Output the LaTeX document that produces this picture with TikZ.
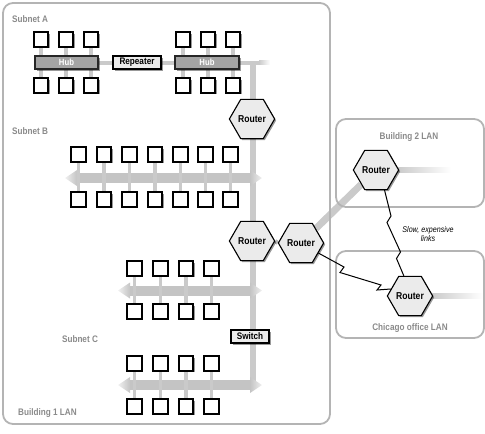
\documentclass[tikz,border=0pt]{standalone}
\usepackage{fontspec}
\setmainfont{Liberation Sans}[FakeStretch=0.86]
\usetikzlibrary{shapes.geometric,shadows,calc}
\pgfdeclarelayer{bg}
\pgfsetlayers{bg,main}
\definecolor{framec}{HTML}{B4B4B4}
\definecolor{labc}{HTML}{8A8A8A}
\definecolor{linec}{HTML}{CACACA}
\definecolor{barc}{HTML}{C4C4C4}
\definecolor{hubc}{HTML}{A4A4A4}
\definecolor{boxc}{HTML}{EBEBEB}
\tikzset{
 shad/.style={drop shadow={shadow xshift=1.5pt,shadow yshift=-1.5pt,fill=black,opacity=0.4}},
 pc/.style={draw=black,line width=1.8pt,fill=white,minimum size=14.5pt,inner sep=0pt,shad},
 hub/.style={draw=black!85,line width=1.3pt,fill=hubc,minimum height=13pt,inner sep=0pt,text=white,font=\fontsize{9}{10}\selectfont\bfseries,shad},
 devbox/.style={draw=black,line width=1.3pt,fill=boxc,minimum height=13pt,inner sep=0pt,font=\fontsize{9.5}{10}\selectfont\bfseries,shad},
 router/.style={regular polygon,regular polygon sides=6,minimum size=37pt,inner sep=0pt,draw=black,line width=1.1pt,fill=boxc,font=\fontsize{10}{10}\selectfont\bfseries,shad},
 lab/.style={text=labc,font=\fontsize{9.5}{10}\selectfont\bfseries,inner sep=0pt},
 frame/.style={draw=framec,line width=1.8pt,rounded corners=10pt},
 stub/.style={draw=linec,line width=3.5pt},
 trunk/.style={draw=linec,line width=5.5pt},
 bolt/.style={draw=black,line width=1pt,line join=miter},
}
\newcommand\netbar[4]{%
 \coordinate (#1) at (#2,#4);
 \fill[barc] (#2+11,#4-5) rectangle (#3-11,#4+5);
 \shade[left color=barc!25,right color=barc] (#2,#4) -- (#2+12,#4-8) -- (#2+12,#4+8) -- cycle;
 \shade[left color=barc,right color=barc!25] (#3,#4) -- (#3-12,#4-8) -- (#3-12,#4+8) -- cycle;
}
\begin{document}
\begin{tikzpicture}[x=1pt,y=-1pt]
\useasboundingbox (0,0) rectangle (485,434);
% frames
\draw[frame] (3,3) rectangle (330,424);
\draw[frame] (336,119) rectangle (484,207);
\draw[frame] (336,251) rectangle (484,338);
% labels
\node[lab,anchor=west] (labA) at (12,19) {Subnet A};
\node[lab,anchor=west] (labB) at (12,131) {Subnet B};
\node[lab] (labC) at (80,339) {Subnet C};
\node[lab,anchor=west] (lab1) at (18,413) {Building 1 LAN};
\node[lab] (lab2) at (409,137) {Building 2 LAN};
\node[lab] (lab3) at (410,328) {Chicago office LAN};
\node[font=\fontsize{8.3}{9}\selectfont\itshape,align=center,inner sep=0pt] (slow) at (428,234.5) {Slow, expensive\\links};
% Subnet A
\node[hub,minimum width=63pt] (hub1) at (66.5,62.5) {Hub};
\node[devbox,minimum width=48pt] (rep) at (137,62.5) {Repeater};
\node[hub,minimum width=64pt] (hub2) at (207,62.5) {Hub};
\foreach \x [count=\i] in {41,66,91}{
  \node[pc] (a\i t) at (\x,39.5) {};
  \node[pc] (a\i b) at (\x,85.5) {};
  \begin{pgfonlayer}{bg}
  \draw[stub] (a\i t) -- (a\i b);
  \end{pgfonlayer}
}
\foreach \x [count=\i] in {183,208,233}{
  \node[pc] (c\i t) at (\x,39.5) {};
  \node[pc] (c\i b) at (\x,85.5) {};
  \begin{pgfonlayer}{bg}
  \draw[stub] (c\i t) -- (c\i b);
  \end{pgfonlayer}
}
% routers and switch
\node[router] (r1) at (252,119) {Router};
\node[router] (r2) at (252,241) {Router};
\node[router] (r3) at (301,243) {Router};
\node[router] (rb2) at (376,170) {Router};
\node[router] (rc) at (410,296) {Router};
\node[devbox,minimum width=38pt] (sw) at (250,336.5) {Switch};
\coordinate (tA) at (253,62.5);
\coordinate (tE) at (253,385);
% Subnet B and C computers
\foreach \x [count=\i] in {78.5,104,129.5,155,180.5,205.5,230.5}{
  \node[pc] (b\i t) at (\x,154.5) {};
  \node[pc] (b\i b) at (\x,199.5) {};
}
\foreach \x [count=\i] in {134.5,160.5,186,211.5}{
  \node[pc] (d\i t) at (\x,268.5) {};
  \node[pc] (d\i b) at (\x,311.5) {};
  \node[pc] (e\i t) at (\x,363.5) {};
  \node[pc] (e\i b) at (\x,406.5) {};
}
\begin{pgfonlayer}{bg}
\draw[stub,line width=4pt] (hub1) -- (rep) -- (hub2);
\draw[stub,line width=4pt] (hub2.east) -- (259,62.5);
\shade[left color=linec,right color=white] (259,60.5) rectangle (270,64.5);
\draw[trunk] (tA) -- (tE);
\netbar{barB}{65}{262}{178}
\netbar{barC1}{118}{262}{290.5}
\netbar{barC2}{118}{262}{385}
\foreach \i in {1,...,7}{\draw[stub] (b\i t) -- (b\i b);}
\foreach \i in {1,...,4}{\draw[stub] (d\i t) -- (d\i b); \draw[stub] (e\i t) -- (e\i b);}
% WAN links
\draw[draw=linec!90!black,line width=4pt,dash pattern=on 3.5pt off 2.5pt] (r2.east) -- (r3.west);
\draw[draw=linec,line width=7pt] (r3) -- (rb2);
\shade[left color=linec,right color=white] ($(rb2.east)+(-2,-2.5)$) rectangle ($(rb2.east)+(52,2.5)$);
\shade[left color=linec,right color=white] ($(rc.east)+(-2,-2.5)$) rectangle ($(rc.east)+(50,2.5)$);
\end{pgfonlayer}
\draw[bolt] (r3.-30) -- (344,267) -- (340,272.5) -- (381,285) -- (377,290) -- (rc.160);
\draw[bolt] (rb2.-67) -- (391,216) -- (387,222.5) -- (400.5,252) -- (396.5,258.5) -- (rc.107);
\end{tikzpicture}
\end{document}
